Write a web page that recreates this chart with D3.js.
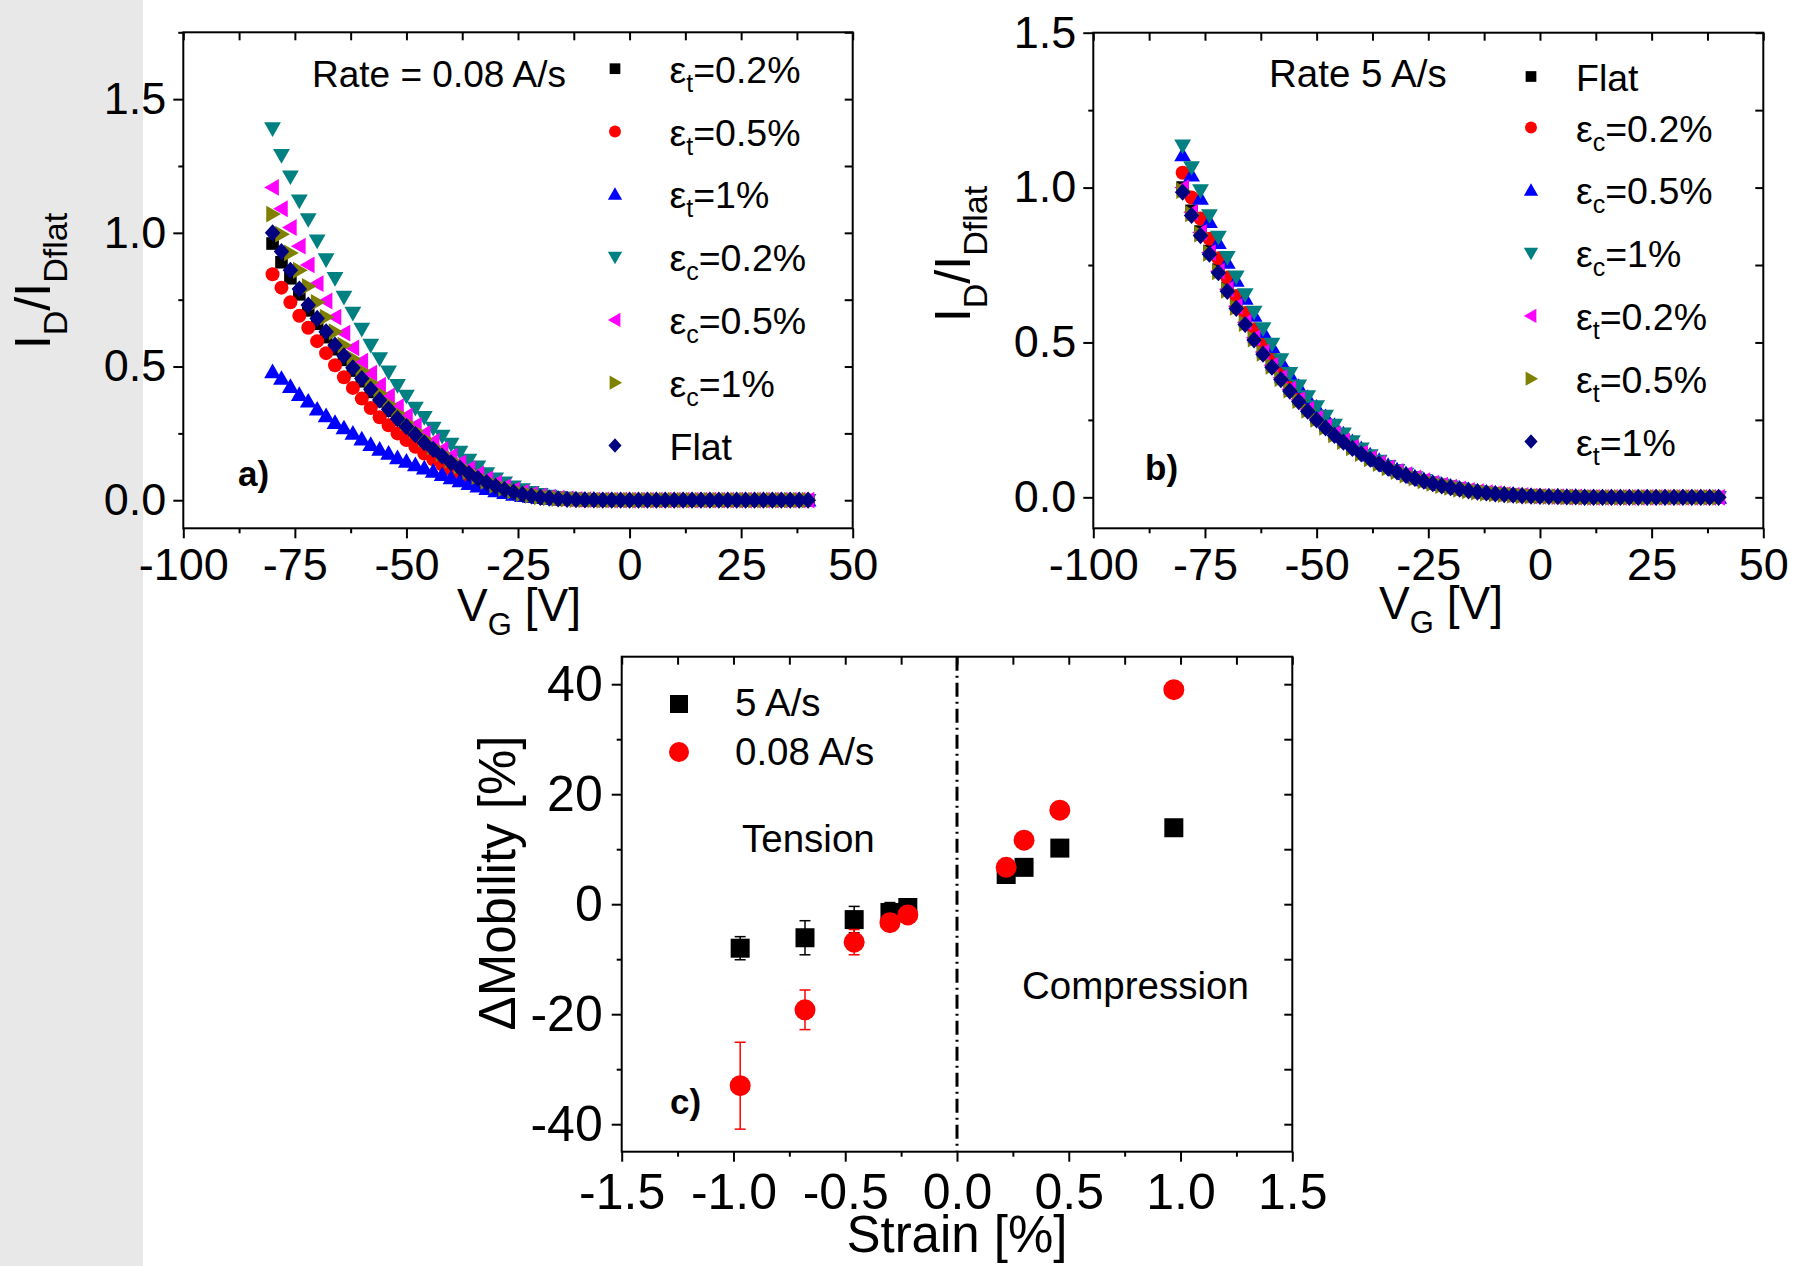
<!DOCTYPE html>
<meta charset="utf-8">
<style>
body,html{ margin:0; padding:0; background:#fff; }
svg{ display:block; font-family:"Liberation Sans", Arial, sans-serif; }
.axis line{ stroke:#000; stroke-width:2; }
.axis text{ fill:#000; font-family:"Liberation Sans", Arial, sans-serif; }
</style>
<svg width="1795" height="1266"></svg>
<script src="https://d3js.org/d3.v7.min.js"></script>
<script>

// gate voltage grid shared by panels a and b
var vg = [-80,-78,-76,-74,-72,-70,-68,-66,-64,-62,
          -60,-58,-56,-54,-52,-50,-48,-46,-44,-42,
          -40,-38,-36,-34,-32,-30,-28,-26,-24,-22,
          -20,-18,-16,-14,-12,-10,-8,-6,-4,-2,
          0,2,4,6,8,10,12,14,16,18,
          20,22,24,26,28,30,32,34,36,38,
          40];

// panel a, rate 0.08 A/s
var aT02 = [0.96,0.89,0.83,0.77,0.71,0.66,0.61,0.565,0.525,0.485,
            0.445,0.405,0.37,0.335,0.30,0.27,0.24,0.21,0.185,0.16,
            0.138,0.118,0.098,0.08,0.065,0.051,0.039,0.029,0.021,0.015,
            0.011,0.007,0.005,0.003,0.002,0.001,0.001,0,0,0,
            0,0,0,0,0,0,0,0,0,0,
            0,0,0,0,0,0,0,0,0,0,
            0];
var aT05 = [0.845,0.795,0.74,0.69,0.645,0.595,0.55,0.505,0.46,0.42,
            0.38,0.345,0.31,0.28,0.25,0.225,0.20,0.175,0.153,0.133,
            0.115,0.098,0.083,0.069,0.056,0.045,0.035,0.027,0.02,0.015,
            0.011,0.008,0.005,0.003,0.002,0.001,0.001,0,0,0,
            0,0,0,0,0,0,0,0,0,0,
            0,0,0,0,0,0,0,0,0,0,
            0];
var aT1 = [0.48,0.455,0.425,0.395,0.37,0.34,0.315,0.29,0.27,0.25,
           0.228,0.208,0.19,0.175,0.158,0.145,0.132,0.12,0.108,0.095,
           0.083,0.072,0.062,0.052,0.043,0.035,0.028,0.022,0.017,0.013,
           0.009,0.006,0.004,0.003,0.002,0.001,0.001,0,0,0,
           0,0,0,0,0,0,0,0,0,0,
           0,0,0,0,0,0,0,0,0,0,
           0];
var aC02 = [1.39,1.29,1.21,1.12,1.05,0.97,0.90,0.83,0.76,0.70,
            0.64,0.58,0.53,0.48,0.43,0.39,0.345,0.31,0.27,0.24,
            0.21,0.18,0.15,0.125,0.10,0.08,0.065,0.05,0.04,0.03,
            0.022,0.016,0.011,0.008,0.005,0.003,0.002,0.001,0.001,0,
            0,0,0,0,0,0,0,0,0,0,
            0,0,0,0,0,0,0,0,0,0,
            0];
var aC05 = [1.17,1.09,1.02,0.95,0.88,0.81,0.745,0.685,0.625,0.57,
            0.52,0.475,0.43,0.39,0.35,0.315,0.28,0.25,0.22,0.19,
            0.165,0.14,0.118,0.098,0.08,0.064,0.05,0.039,0.03,0.022,
            0.016,0.011,0.008,0.005,0.003,0.002,0.001,0.001,0,0,
            0,0,0,0,0,0,0,0,0,0,
            0,0,0,0,0,0,0,0,0,0,
            0];
var aC1 = [1.07,0.995,0.925,0.86,0.80,0.74,0.685,0.63,0.58,0.53,
           0.485,0.44,0.40,0.36,0.325,0.29,0.26,0.23,0.20,0.175,
           0.15,0.128,0.107,0.088,0.071,0.056,0.044,0.034,0.025,0.018,
           0.013,0.009,0.006,0.004,0.002,0.001,0.001,0,0,0,
           0,0,0,0,0,0,0,0,0,0,
           0,0,0,0,0,0,0,0,0,0,
           0];
var aFlat = [1.00,0.93,0.86,0.79,0.73,0.68,0.63,0.58,0.54,0.495,
             0.455,0.415,0.375,0.34,0.305,0.275,0.245,0.215,0.19,0.165,
             0.14,0.12,0.10,0.082,0.066,0.052,0.04,0.03,0.022,0.016,
             0.011,0.008,0.005,0.003,0.002,0.001,0.001,0,0,0,
             0,0,0,0,0,0,0,0,0,0,
             0,0,0,0,0,0,0,0,0,0,
             0];

// panel b, rate 5 A/s
var bFlat = [1.0,0.925,0.858,0.795,0.735,0.676,0.62,0.568,0.518,0.471,
             0.428,0.388,0.351,0.317,0.286,0.257,0.23,0.206,0.184,0.163,
             0.144,0.127,0.111,0.097,0.085,0.074,0.064,0.055,0.047,0.04,
             0.034,0.028,0.023,0.019,0.015,0.012,0.01,0.008,0.006,0.004,
             0.003,0.002,0.002,0.001,0.001,0,0,0,0,0,
             0,0,0,0,0,0,0,0,0,0,
             0];
var bC02 = [1.048,0.968,0.90,0.835,0.772,0.71,0.65,0.595,0.543,0.495,
            0.45,0.408,0.37,0.333,0.30,0.27,0.242,0.216,0.192,0.17,
            0.149,0.13,0.113,0.098,0.085,0.073,0.062,0.053,0.045,0.038,
            0.032,0.027,0.022,0.018,0.015,0.012,0.01,0.008,0.006,0.005,
            0.004,0.003,0.002,0.002,0.001,0.001,0,0,0,0,
            0,0,0,0,0,0,0,0,0,0,
            0];
var bC05 = [1.105,1.04,0.965,0.89,0.822,0.758,0.70,0.642,0.587,0.535,
            0.486,0.44,0.396,0.357,0.322,0.29,0.26,0.231,0.204,0.179,
            0.156,0.136,0.118,0.102,0.088,0.076,0.065,0.056,0.048,0.041,
            0.035,0.029,0.024,0.02,0.016,0.013,0.011,0.009,0.007,0.005,
            0.004,0.003,0.003,0.002,0.002,0.001,0.001,0,0,0,
            0,0,0,0,0,0,0,0,0,0,
            0];
var bC1 = [1.135,1.065,0.99,0.91,0.84,0.775,0.712,0.655,0.598,0.545,
           0.495,0.445,0.40,0.36,0.325,0.293,0.262,0.233,0.205,0.18,
           0.157,0.135,0.117,0.10,0.087,0.075,0.064,0.055,0.047,0.04,
           0.034,0.028,0.023,0.019,0.015,0.012,0.01,0.008,0.006,0.005,
           0.004,0.003,0.003,0.002,0.002,0.001,0.001,0,0,0,
           0,0,0,0,0,0,0,0,0,0,
           0];
var bT02 = [1.0,0.92,0.855,0.79,0.73,0.672,0.617,0.565,0.515,0.469,
            0.426,0.386,0.349,0.315,0.284,0.255,0.229,0.205,0.182,0.162,
            0.143,0.126,0.11,0.096,0.084,0.073,0.063,0.054,0.046,0.039,
            0.033,0.027,0.022,0.018,0.015,0.012,0.009,0.007,0.006,0.004,
            0.003,0.002,0.002,0.001,0.001,0,0,0,0,0,
            0,0,0,0,0,0,0,0,0,0,
            0];
var bT05 = [0.99,0.915,0.85,0.788,0.728,0.668,0.613,0.561,0.511,0.465,
            0.423,0.383,0.346,0.312,0.281,0.252,0.226,0.202,0.18,0.16,
            0.141,0.124,0.109,0.095,0.083,0.072,0.062,0.053,0.045,0.038,
            0.032,0.026,0.021,0.017,0.014,0.011,0.009,0.007,0.005,0.004,
            0.003,0.002,0.002,0.001,0.001,0,0,0,0,0,
            0,0,0,0,0,0,0,0,0,0,
            0];
var bT1 = [0.985,0.91,0.845,0.785,0.725,0.665,0.61,0.558,0.508,0.462,
           0.42,0.38,0.343,0.309,0.278,0.25,0.224,0.20,0.178,0.158,
           0.14,0.123,0.108,0.094,0.082,0.071,0.061,0.052,0.044,0.037,
           0.031,0.026,0.021,0.017,0.014,0.011,0.009,0.007,0.005,0.004,
           0.003,0.002,0.002,0.001,0.001,0,0,0,0,0,
           0,0,0,0,0,0,0,0,0,0,
           0];

var aNames = ["ε_t=0.2%","ε_t=0.5%","ε_t=1%","ε_c=0.2%","ε_c=0.5%","ε_c=1%","Flat"];
var bNames = ["Flat","ε_c=0.2%","ε_c=0.5%","ε_c=1%","ε_t=0.2%","ε_t=0.5%","ε_t=1%"];
var colors = ["#000000","#ff0000","#0000ff","#008080","#ff00ff","#808000","#000080"];
var shapes = ["square","circle","up","down","left","right","diamond"];

// panel c: mobility change vs strain
var strain = [-0.97,-0.68,-0.46,-0.30,-0.22,0.22,0.30,0.46,0.97];
var mob5 = [-8.0,-6.1,-2.8,-1.5,-0.6,5.4,6.7,10.2,13.9];
var err5 = [2.1,3.1,2.4,1.8,1.5,0,0,0,0];
var mob008 = [-33.0,-19.2,-6.9,-3.35,-1.95,6.7,11.65,17.1,39.0];
var err008 = [7.9,3.6,2.3,1.5,0.5,0.3,0,0,0];

// ---------------------------------------------------------------
var svg = d3.select("svg");
var FONT = '"Liberation Sans", Arial, sans-serif';

svg.append("rect").attr("x",0).attr("y",0).attr("width",143).attr("height",1266).attr("fill","#e8e8e8");

var symR = {square:6.3, circle:7, up:8.4, down:8.4, left:8.4, right:8.4, diamond:8.6};

function shape(kind, r) {
  var p = d3.path();
  if (kind == "square") p.rect(-r, -r, 2*r, 2*r);
  else if (kind == "circle") { p.moveTo(r, 0); p.arc(0, 0, r, 0, 2*Math.PI); }
  else if (kind == "up") { p.moveTo(0, -r); p.lineTo(r, 0.75*r); p.lineTo(-r, 0.75*r); p.closePath(); }
  else if (kind == "down") { p.moveTo(0, r); p.lineTo(r, -0.75*r); p.lineTo(-r, -0.75*r); p.closePath(); }
  else if (kind == "left") { p.moveTo(-r, 0); p.lineTo(0.75*r, -r); p.lineTo(0.75*r, r); p.closePath(); }
  else if (kind == "right") { p.moveTo(r, 0); p.lineTo(-0.75*r, -r); p.lineTo(-0.75*r, r); p.closePath(); }
  else if (kind == "diamond") { p.moveTo(0, -r); p.lineTo(0.9*r, 0); p.lineTo(0, r); p.lineTo(-0.9*r, 0); p.closePath(); }
  return p.toString();
}

// text with "_x" or "_{xyz}" subscripts
function rich(sel, str, size, subSize, shift) {
  var parts = str.split(/(_\{[^}]*\}|_.)/).filter(function(s){ return s.length; });
  var down = false;
  parts.forEach(function(p) {
    if (p[0] == "_") {
      var t = p[1] == "{" ? p.slice(2, -1) : p.slice(1);
      sel.append("tspan").attr("font-size", subSize).attr("dy", shift).text(t);
      down = true;
    } else {
      sel.append("tspan").attr("font-size", size).attr("dy", down ? -shift : 0).text(p);
      down = false;
    }
  });
  return sel;
}

function frame(o) {
  var g = svg.append("g");
  var x = o.x, y = o.y;
  var x0 = x.range()[0], x1 = x.range()[1], y0 = y.range()[0], y1 = y.range()[1];
  function clean(s){ s.select(".domain").remove(); s.attr("font-family", FONT); }

  g.append("g").attr("class","axis").attr("transform","translate(0,"+y0+")")
    .call(d3.axisBottom(x).tickValues(o.xMinor).tickSize(5).tickFormat(function(){return "";})).call(clean);
  g.append("g").attr("class","axis").attr("transform","translate(0,"+y0+")")
    .call(d3.axisBottom(x).tickValues(o.xMajor).tickSize(10).tickPadding(o.xPad).tickFormat(o.xFmt))
    .call(clean).attr("font-size", o.fs);
  g.append("g").attr("class","axis").attr("transform","translate("+x0+",0)")
    .call(d3.axisLeft(y).tickValues(o.yMinor).tickSize(5).tickFormat(function(){return "";})).call(clean);
  g.append("g").attr("class","axis").attr("transform","translate("+x0+",0)")
    .call(d3.axisLeft(y).tickValues(o.yMajor).tickSize(10).tickPadding(o.yPad).tickFormat(o.yFmt))
    .call(clean).attr("font-size", o.fs);
  g.append("g").attr("class","axis").attr("transform","translate(0,"+y1+")")
    .call(d3.axisTop(x).tickValues(o.xMajor.concat(o.xMinor)).tickSize(-8).tickFormat(function(){return "";})).call(clean);
  g.append("g").attr("class","axis").attr("transform","translate("+x1+",0)")
    .call(d3.axisRight(y).tickValues(o.yMajor.concat(o.yMinor)).tickSize(-8).tickFormat(function(){return "";})).call(clean);

  g.append("rect").attr("x", x0).attr("y", y1).attr("width", x1 - x0).attr("height", y0 - y1)
    .attr("fill","none").attr("stroke","#000").attr("stroke-width",2);
  return g;
}

function curves(x, y, series) {
  var g = svg.append("g");
  series.forEach(function(vals, i) {
    g.append("g").selectAll("path")
      .data(vg.map(function(v, j){ return [v, vals[j]]; }).filter(function(d){ return d[1] != null; }))
      .enter().append("path")
      .attr("d", shape(shapes[i], symR[shapes[i]]))
      .attr("transform", function(d){ return "translate(" + x(d[0]) + "," + y(d[1]) + ")"; })
      .attr("fill", colors[i]);
  });
}

function legend(names, sx, tx, rowY) {
  names.forEach(function(n, i) {
    var yy = rowY(i);
    svg.append("path").attr("d", shape(shapes[i], symR[shapes[i]] * 0.85))
      .attr("transform","translate(" + sx + "," + yy + ")").attr("fill", colors[i]);
    rich(svg.append("text").attr("x", tx).attr("y", yy + 14).attr("font-family", FONT), n, 37.5, 25, 9);
  });
}

function label(x, y, str, size, sub, shift, opt) {
  opt = opt || {};
  var t = svg.append("text").attr("font-family", FONT)
    .attr("text-anchor", opt.anchor || "start")
    .attr("font-weight", opt.bold ? "bold" : "normal");
  if (opt.rotate) t.attr("transform", "translate(" + x + "," + y + ") rotate(-90)");
  else t.attr("x", x).attr("y", y);
  return rich(t, str, size, sub, shift);
}

var vgFmt = function(d){ return String(d); };
var oneDec = function(d){ return d.toFixed(1); };

// ---------------- panel a ----------------
var xA = d3.scaleLinear().domain([-100, 50]).range([183.3, 852.7]);
var yA = d3.scaleLinear().domain([-0.105, 1.75]).range([528.3, 32.3]);
frame({x:xA, y:yA, xMajor:[-100,-75,-50,-25,0,25,50], xMinor:[-87.5,-62.5,-37.5,-12.5,12.5,37.5],
       yMajor:[0,0.5,1,1.5], yMinor:[0.25,0.75,1.25,1.75], xFmt:vgFmt, yFmt:oneDec, fs:45, xPad:10, yPad:7});
curves(xA, yA, [aT02, aT05, aT1, aC02, aC05, aC1, aFlat]);
legend(aNames, 615, 669.5, function(i){ return 68.7 + i*62.8; });
label(312, 87, "Rate = 0.08 A/s", 37, 25, 0);
label(238, 486, "a)", 35, 24, 0, {bold:true});
label(519, 621, "V_G [V]", 46, 31, 14, {anchor:"middle"});
label(50, 281, "I_D/I_{Dflat}", 50, 34, 17, {anchor:"middle", rotate:true});

// ---------------- panel b ----------------
var xB = d3.scaleLinear().domain([-100, 50]).range([1093.3, 1763.3]);
var yB = d3.scaleLinear().domain([-0.1, 1.5]).range([528.3, 32.7]);
frame({x:xB, y:yB, xMajor:[-100,-75,-50,-25,0,25,50], xMinor:[-87.5,-62.5,-37.5,-12.5,12.5,37.5],
       yMajor:[0,0.5,1,1.5], yMinor:[0.25,0.75,1.25], xFmt:vgFmt, yFmt:oneDec, fs:45, xPad:10, yPad:7});
curves(xB, yB, [bFlat, bC02, bC05, bC1, bT02, bT05, bT1]);
legend(bNames, 1531, 1576, function(i){ return i == 0 ? 76.5 : 127.5 + (i-1)*62.8; });
label(1269, 87, "Rate 5 A/s", 38.5, 26, 0);
label(1145, 480, "b)", 35, 24, 0, {bold:true});
label(1441, 619, "V_G [V]", 46, 31, 14, {anchor:"middle"});
label(970, 254, "I_D/I_{Dflat}", 50, 34, 17, {anchor:"middle", rotate:true});

// ---------------- panel c ----------------
var xC = d3.scaleLinear().domain([-1.5, 1.5]).range([621.7, 1292.3]);
var yC = d3.scaleLinear().domain([-45, 45]).range([1151.7, 656.7]);
frame({x:xC, y:yC, xMajor:[-1.5,-1,-0.5,0,0.5,1,1.5], xMinor:[-1.25,-0.75,-0.25,0.25,0.75,1.25],
       yMajor:[-40,-20,0,20,40], yMinor:[-30,-10,10,30], xFmt:oneDec, yFmt:vgFmt, fs:50, xPad:11.5, yPad:9});

svg.append("line").attr("x1", xC(0)).attr("x2", xC(0)).attr("y1", yC(45)).attr("y2", yC(-45))
  .attr("stroke","#000").attr("stroke-width",3).attr("stroke-dasharray","14,5,2,5");

function errs(mob, err, col) {
  var g = svg.append("g").attr("stroke", col).attr("stroke-width", 1.5);
  strain.forEach(function(s, i) {
    if (!err[i]) return;
    var cx = xC(s), t = yC(mob[i] + err[i]), b = yC(mob[i] - err[i]);
    g.append("line").attr("x1", cx).attr("x2", cx).attr("y1", t).attr("y2", b);
    g.append("line").attr("x1", cx - 5.5).attr("x2", cx + 5.5).attr("y1", t).attr("y2", t);
    g.append("line").attr("x1", cx - 5.5).attr("x2", cx + 5.5).attr("y1", b).attr("y2", b);
  });
}
errs(mob5, err5, "#000");
svg.append("g").selectAll("path").data(strain).enter().append("path")
  .attr("d", shape("square", 9.5))
  .attr("transform", function(d, i){ return "translate(" + xC(d) + "," + yC(mob5[i]) + ")"; })
  .attr("fill", "#000");
errs(mob008, err008, "#ff0000");
svg.append("g").selectAll("path").data(strain).enter().append("path")
  .attr("d", shape("circle", 10.5))
  .attr("transform", function(d, i){ return "translate(" + xC(d) + "," + yC(mob008[i]) + ")"; })
  .attr("fill", "#ff0000");

svg.append("path").attr("d", shape("square", 9)).attr("transform","translate(679,704)").attr("fill","#000");
svg.append("path").attr("d", shape("circle", 10)).attr("transform","translate(679,752)").attr("fill","#ff0000");
label(735, 716, "5 A/s", 38.5, 26, 0);
label(735, 765, "0.08 A/s", 38.5, 26, 0);
label(742, 852, "Tension", 38.5, 26, 0);
label(1022, 999, "Compression", 38.5, 26, 0);
label(670, 1114, "c)", 35, 24, 0, {bold:true});
label(957, 1252, "Strain [%]", 51, 34, 0, {anchor:"middle"});
label(515, 883, "ΔMobility [%]", 51, 34, 0, {anchor:"middle", rotate:true});

</script>
